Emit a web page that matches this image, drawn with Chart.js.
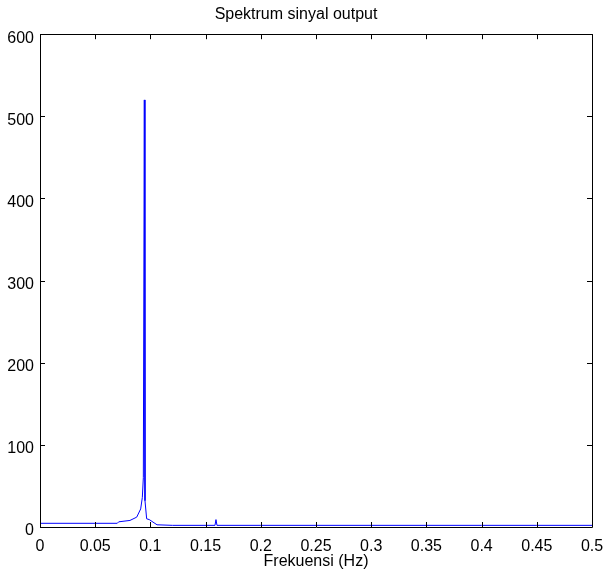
<!DOCTYPE html>
<html>
<head>
<meta charset="utf-8">
<script src="https://cdn.jsdelivr.net/npm/chart.js@4/dist/chart.umd.min.js"></script>
<style>
  html, body { margin: 0; padding: 0; background: #ffffff; }
  #c { display: block; }
</style>
</head>
<body>
<canvas id="c" width="604" height="580"></canvas>
<script>
// ---- data ----
const titleText = "Spektrum sinyal output";
const xLabel = "Frekuensi (Hz)";
const freq = [0, 0.070, 0.0713, 0.0815, 0.0876, 0.0912, 0.0927, 0.0936, 0.0945, 0.0951, 0.0966, 0.0990, 0.1060, 0.1200,
              0.1585, 0.1594, 0.1603, 0.2000, 0.2500, 0.3000, 0.3500, 0.4000, 0.4500, 0.5000];
const amp  = [4.5, 4.5, 6.3, 8, 12, 22, 36, 60, 520, 32, 10, 9, 2.7, 2,
              2, 9, 2, 2, 2, 2, 2, 2, 2, 2];
const xTicks = [0, 0.05, 0.1, 0.15, 0.2, 0.25, 0.3, 0.35, 0.4, 0.45, 0.5];
const yTicks = [0, 100, 200, 300, 400, 500, 600];

const points = freq.map((f, i) => ({ x: f, y: amp[i] }));
const FONT = "'Liberation Sans', Arial, sans-serif";

const boxPlugin = {
  id: 'matlabBox',
  afterDraw(chart) {
    const { ctx, chartArea: a, scales } = chart;
    const tl = 5;
    ctx.save();
    ctx.strokeStyle = '#000';
    ctx.lineWidth = 1;
    ctx.beginPath();
    ctx.rect(Math.round(a.left) + 0.5, Math.round(a.top) + 0.5,
             Math.round(a.right - a.left), Math.round(a.bottom - a.top));
    ctx.stroke();
    ctx.beginPath();
    xTicks.forEach(v => {
      const px = Math.round(scales.x.getPixelForValue(v)) + 0.5;
      ctx.moveTo(px, a.bottom); ctx.lineTo(px, a.bottom - tl);
      ctx.moveTo(px, a.top); ctx.lineTo(px, a.top + tl);
    });
    yTicks.forEach(v => {
      const py = Math.round(scales.y.getPixelForValue(v)) + 0.5;
      ctx.moveTo(a.left, py); ctx.lineTo(a.left + tl, py);
      ctx.moveTo(a.right, py); ctx.lineTo(a.right - tl, py);
    });
    ctx.stroke();
    ctx.restore();
  }
};

new Chart(document.getElementById('c'), {
  type: 'line',
  data: {
    datasets: [{
      data: points,
      borderColor: '#0000ff',
      borderWidth: 1,
      pointRadius: 0,
      tension: 0,
      fill: false
    }]
  },
  options: {
    responsive: false,
    animation: false,
    layout: { padding: { left: 0, right: 12, top: 0, bottom: 0 } },
    plugins: {
      legend: { display: false },
      tooltip: { enabled: false },
      title: {
        display: true,
        text: titleText,
        color: '#000',
        font: { family: FONT, size: 16, weight: 'normal' },
        padding: { top: 5, bottom: 10 }
      }
    },
    scales: {
      x: {
        type: 'linear',
        min: 0, max: 0.5,
        afterFit(s) { s.height = 53; s.paddingLeft = 0; s.paddingRight = 0; },
        afterBuildTicks(s) { s.ticks = xTicks.map(v => ({ value: v })); },
        grid: { display: false, drawTicks: false },
        border: { display: false },
        ticks: {
          color: '#000',
          font: { family: FONT, size: 16 },
          padding: 10,
          maxRotation: 0,
          autoSkip: false,
          callback: v => String(parseFloat(Number(v).toFixed(2)))
        },
        title: {
          display: true,
          text: xLabel,
          color: '#000',
          font: { family: FONT, size: 16 },
          padding: { top: 0, bottom: 9 }
        }
      },
      y: {
        type: 'linear',
        min: 0, max: 600,
        afterFit(s) { s.width = 40; s.paddingTop = 0; s.paddingBottom = 0; },
        afterBuildTicks(s) { s.ticks = yTicks.map(v => ({ value: v })); },
        grid: { display: false, drawTicks: false },
        border: { display: false },
        ticks: {
          color: '#000',
          font: { family: FONT, size: 16 },
          padding: 6,
          labelOffset: 4,
          autoSkip: false,
          callback: v => String(v)
        }
      }
    }
  },
  plugins: [boxPlugin]
});
</script>
</body>
</html>
